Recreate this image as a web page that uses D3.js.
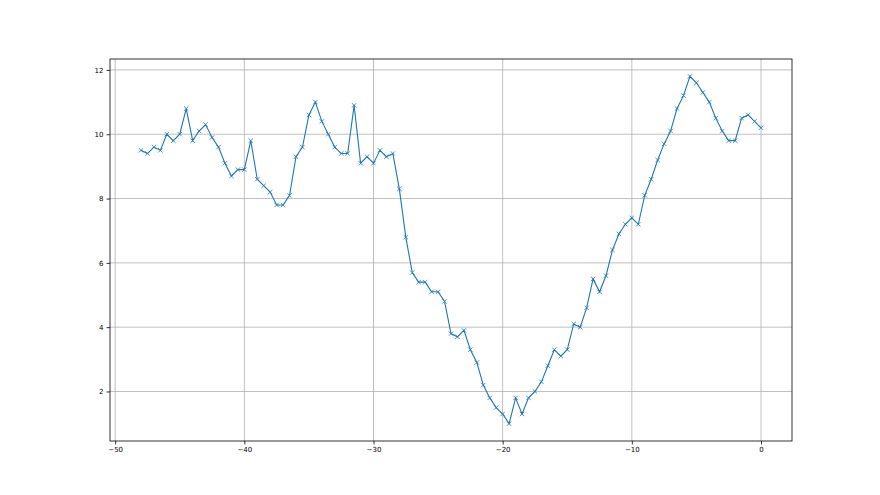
<!DOCTYPE html>
<html>
<head>
<meta charset="utf-8">
<script src="https://cdn.jsdelivr.net/npm/d3@7.9.0/dist/d3.min.js"></script>
<style>
  body { margin: 0; background: #fff; }
  svg text { font-family: "DejaVu Sans", sans-serif; font-size: 7px; fill: #000; }
</style>
</head>
<body>
<svg width="880" height="495"></svg>
<script>
const xs = [
  -48, -47.5, -47, -46.5, -46, -45.5, -45, -44.5, -44, -43.5, -43, -42.5, -42, -41.5, -41, -40.5,
  -40, -39.5, -39, -38.5, -38, -37.5, -37, -36.5, -36, -35.5, -35, -34.5, -34, -33.5, -33, -32.5,
  -32, -31.5, -31, -30.5, -30, -29.5, -29, -28.5, -28, -27.5, -27, -26.5, -26, -25.5, -25, -24.5,
  -24, -23.5, -23, -22.5, -22, -21.5, -21, -20.5, -20, -19.5, -19, -18.5, -18, -17.5, -17, -16.5,
  -16, -15.5, -15, -14.5, -14, -13.5, -13, -12.5, -12, -11.5, -11, -10.5, -10, -9.5, -9, -8.5,
  -8, -7.5, -7, -6.5, -6, -5.5, -5, -4.5, -4, -3.5, -3, -2.5, -2, -1.5, -1, -0.5, 0
];
const ys = [
  9.5, 9.4, 9.6, 9.5, 10.0, 9.8, 10.0, 10.8, 9.8, 10.1, 10.3, 9.9, 9.6, 9.1, 8.7, 8.9,
  8.9, 9.8, 8.6, 8.4, 8.2, 7.8, 7.8, 8.1, 9.3, 9.6, 10.6, 11.0, 10.4, 10.0, 9.6, 9.4,
  9.4, 10.9, 9.1, 9.3, 9.1, 9.5, 9.3, 9.4, 8.3, 6.8, 5.7, 5.4, 5.4, 5.1, 5.1, 4.8,
  3.8, 3.7, 3.9, 3.3, 2.9, 2.2, 1.8, 1.5, 1.3, 1.0, 1.8, 1.3, 1.8, 2.0, 2.3, 2.8,
  3.3, 3.1, 3.3, 4.1, 4.0, 4.6, 5.5, 5.1, 5.6, 6.4, 6.9, 7.2, 7.4, 7.2, 8.1, 8.6,
  9.2, 9.7, 10.1, 10.8, 11.2, 11.8, 11.6, 11.3, 11.0, 10.5, 10.1, 9.8, 9.8, 10.5, 10.6, 10.4, 10.2
];
const xTicks = [-50, -40, -30, -20, -10, 0];
const yTicks = [2, 4, 6, 8, 10, 12];

const svg = d3.select('svg');
const plotLeft = 110, plotRight = 792, plotTop = 59, plotBottom = 441;

// matplotlib-like 5% margins
let xExt = d3.extent(xs), yExt = d3.extent(ys);
let xPad = (xExt[1] - xExt[0]) * 0.05, yPad = (yExt[1] - yExt[0]) * 0.05;
let x = d3.scaleLinear().domain([xExt[0] - xPad, xExt[1] + xPad]).range([plotLeft, plotRight]);
let y = d3.scaleLinear().domain([yExt[0] - yPad, yExt[1] + yPad]).range([plotBottom, plotTop]);

// grid
let grid = svg.append('g').attr('stroke', '#b0b0b0').attr('stroke-width', 0.8);
xTicks.forEach(t => {
  grid.append('line').attr('x1', x(t)).attr('x2', x(t)).attr('y1', plotTop).attr('y2', plotBottom);
});
yTicks.forEach(t => {
  grid.append('line').attr('x1', plotLeft).attr('x2', plotRight).attr('y1', y(t)).attr('y2', y(t));
});

// axes
let xAxis = svg.append('g').attr('transform', `translate(0,${plotBottom})`)
  .call(d3.axisBottom(x).tickValues(xTicks).tickSize(3.5).tickPadding(3).tickFormat(d => d3.format('d')(d).replace('-', '\u2212')));
let yAxis = svg.append('g').attr('transform', `translate(${plotLeft},0)`)
  .call(d3.axisLeft(y).tickValues(yTicks).tickSize(3.5).tickPadding(3).tickFormat(d3.format('d')));
[xAxis, yAxis].forEach(a => {
  a.select('.domain').remove();
  a.selectAll('line').attr('stroke', '#000').attr('stroke-width', 0.8);
  a.selectAll('text').attr('font-size', 7).attr('font-family', '"DejaVu Sans", sans-serif');
});

// line
let line = d3.line().x((d, i) => x(xs[i])).y(d => y(d));
svg.append('path')
  .datum(ys)
  .attr('d', line)
  .attr('fill', 'none')
  .attr('stroke', '#1f77b4')
  .attr('stroke-width', 1.1);

// x markers
let m = 2.2;
svg.append('g').selectAll('path')
  .data(ys)
  .join('path')
  .attr('d', (d, i) => {
    let cx = x(xs[i]), cy = y(d);
    return `M${cx - m},${cy - m}L${cx + m},${cy + m}M${cx - m},${cy + m}L${cx + m},${cy - m}`;
  })
  .attr('stroke', '#1f77b4')
  .attr('stroke-width', 0.8)
  .attr('fill', 'none');

// frame
svg.append('rect')
  .attr('x', plotLeft).attr('y', plotTop)
  .attr('width', plotRight - plotLeft).attr('height', plotBottom - plotTop)
  .attr('fill', 'none').attr('stroke', '#000').attr('stroke-width', 0.8);
</script>
</body>
</html>
